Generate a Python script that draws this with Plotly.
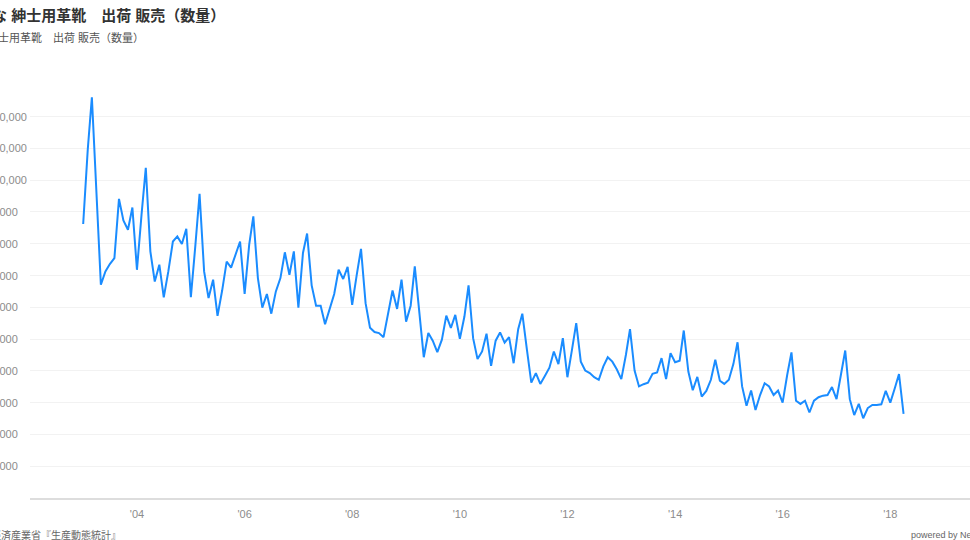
import plotly.graph_objects as go
import pandas as pd

# Monthly shipments (pairs), Jan 2003 - Apr 2018, in thousands
values_k = [
    862, 1096, 1261, 954, 671, 713, 736, 755, 941, 873, 844, 914,   # 2003
    718, 891, 1039, 776, 681, 734, 631, 713, 807, 823, 799, 847,    # 2004
    632, 797, 957, 713, 629, 687, 573, 652, 744, 725, 765, 807,     # 2005
    642, 797, 886, 692, 599, 642, 580, 650, 692, 773, 702, 776,     # 2006
    599, 771, 832, 669, 605, 605, 547, 592, 642, 718, 689, 727,     # 2007
    608, 702, 784, 613, 536, 522, 519, 506, 587, 653, 595, 687,     # 2008
    555, 605, 729, 582, 443, 519, 495, 459, 498, 574, 535, 576,     # 2009
    501, 571, 669, 503, 437, 461, 517, 416, 495, 521, 489, 506,     # 2010
    424, 531, 580, 468, 363, 393, 359, 384, 410, 461, 421, 503,     # 2011
    380, 466, 550, 429, 401, 393, 380, 372, 414, 443, 429, 405,     # 2012
    374, 450, 531, 401, 351, 358, 363, 391, 395, 440, 374, 456,     # 2013
    427, 432, 527, 398, 339, 381, 319, 337, 372, 435, 369, 359,     # 2014
    372, 422, 490, 351, 290, 338, 277, 324, 361, 351, 324, 338,     # 2015
    300, 387, 458, 306, 296, 306, 269, 306, 317, 322, 324, 349,     # 2016
    311, 391, 464, 311, 261, 296, 251, 283, 293, 293, 295, 337,     # 2017
    300, 346, 390, 265,                                            # 2018
]
values = [v * 1000 for v in values_k]
dates = pd.date_range("2003-01-01", periods=len(values), freq="MS")

y_ticks = [100000 * k for k in range(1, 13)]
y_tick_labels = [f"{v:,}" for v in y_ticks]

title_text = "主な 紳士用革靴　出荷 販売（数量）"
subtitle_text = "紳士用革靴　出荷 販売（数量）"
source_text = "出所：経済産業省『生産動態統計』"
credit_text = "powered by NewsPicks"

W, H = 970, 540
ML, MR, MT, MB = 30, 0, 88, 42
PW = W - ML - MR
PH = H - MT - MB


def px_x(p):
    return (p - ML) / PW


def px_y(p):
    return 1 - (p - MT) / PH


fig = go.Figure()
fig.add_trace(go.Scatter(
    x=dates, y=values, mode="lines",
    line=dict(color="#1a8cff", width=2),
    hoverinfo="skip",
))

FONT = "Liberation Sans, Helvetica, Arial, Noto Sans CJK JP, sans-serif"

annotations = []
for v, t in zip(y_ticks, y_tick_labels):
    annotations.append(dict(
        x=px_x(-24), xref="paper", y=v, yref="y", text=t,
        showarrow=False, xanchor="left", yanchor="middle",
        font=dict(size=11, color="#8c8c8c", family=FONT),
    ))
annotations += [
    dict(x=px_x(-25), xref="paper", y=px_y(15), yref="paper", text=f"<b>{title_text}</b>",
         showarrow=False, xanchor="left", yanchor="middle",
         font=dict(size=15, color="#333333", family=FONT)),
    dict(x=px_x(-15), xref="paper", y=px_y(38), yref="paper", text=subtitle_text,
         showarrow=False, xanchor="left", yanchor="middle",
         font=dict(size=11, color="#555555", family=FONT)),
    dict(x=px_x(-41), xref="paper", y=px_y(535), yref="paper", text=source_text,
         showarrow=False, xanchor="left", yanchor="middle",
         font=dict(size=10, color="#666666", family=FONT)),
    dict(x=px_x(909), xref="paper", y=px_y(535), yref="paper", text=credit_text,
         showarrow=False, xanchor="left", yanchor="middle",
         font=dict(size=9, color="#666666", family=FONT)),
]

fig.update_layout(
    width=W, height=H,
    margin=dict(l=ML, r=MR, t=MT, b=MB),
    paper_bgcolor="white", plot_bgcolor="white",
    showlegend=False,
    font=dict(family=FONT),
    annotations=annotations,
    xaxis=dict(
        type="date",
        range=["2002-01-05", "2019-06-26"],
        tick0="2004-01-01", dtick="M24", tickformat="'%y",
        showgrid=False, zeroline=False,
        showline=True, linecolor="#dddddd", linewidth=2,
        ticks="", ticklabelstandoff=5,
        tickfont=dict(size=11, color="#8c8c8c"),
    ),
    yaxis=dict(
        range=[0, 1290000],
        tickvals=y_ticks, showticklabels=False,
        showgrid=True, gridcolor="#f2f2f2", gridwidth=1,
        zeroline=False, showline=False, ticks="",
    ),
)

fig.write_html("out.html")
